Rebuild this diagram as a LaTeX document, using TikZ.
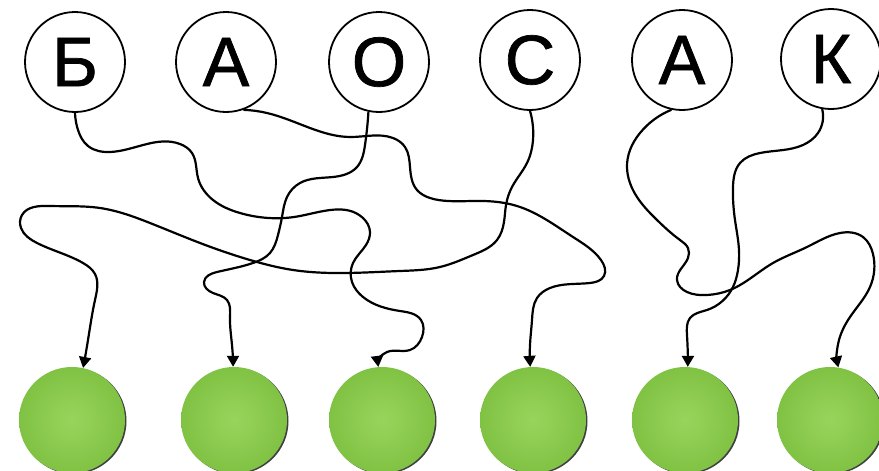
\documentclass[tikz,border=0pt]{standalone}
\usepackage{fontspec}
\setmainfont{Liberation Sans}
\newfontfamily\letterfont[FakeBold=1]{Liberation Sans}
\usetikzlibrary{arrows.meta}
\usetikzlibrary{hobby}

\definecolor{ballhi}{RGB}{152,212,92}
\definecolor{balllo}{RGB}{128,194,68}

\tikzset{
  letter/.style={circle, draw, line width=1.8pt, minimum size=100pt,
    inner sep=0pt, font=\letterfont\fontsize{70}{70}\selectfont},
  ball/.style={circle, minimum size=106pt, inner sep=0pt,
    inner color=ballhi, outer color=balllo},
  wire/.style={line width=2.2pt, -{Triangle[width=12pt,length=11pt]},
    use Hobby shortcut},
}

\begin{document}
\begin{tikzpicture}[x=1pt,y=-1pt]
  \useasboundingbox[fill=white] (0,0) rectangle (879,471);

  % letters
  \node[letter] (t1) at (75,62) {Б};
  \node[letter] (t2) at (226,62) {А};
  \node[letter] (t3) at (379,62) {О};
  \node[letter] (t4) at (530,60) {С};
  \node[letter] (t5) at (682,60) {А};
  \node[letter] (t6) at (831,59) {К};

  % balls
  \foreach \x in {72,234,382,533,685,830}
    \fill[black!75] (\x+1.5,421) circle (53pt);
  \node[ball] (b1) at (72,420) {};
  \node[ball] (b2) at (234,420) {};
  \node[ball] (b3) at (382,420) {};
  \node[ball] (b4) at (533,420) {};
  \node[ball] (b5) at (685,420) {};
  \node[ball] (b6) at (830,420) {};

  % tangled wires
  \draw[wire] (t1.south) .. (78,130) .. (88,146) .. (110,152) .. (180,144)
    .. (192,153) .. (198,178) .. (213,200) .. (240,213) .. (300,216)
    .. (363,218) .. (370,232) .. (366,245) .. (353,263) .. (352,282)
    .. (363,297) .. (400,311) .. (421,320) .. (422,337) .. (410,350)
    .. (387,352) .. (b3.94);
  \draw[wire] (t2.-70) .. (267,113) .. (310,128) .. (350,137) .. (393,138)
    .. (405,147) .. (410,167) .. (417,190) .. (430,198) .. (448,201)
    .. (483,201) .. (517,206) .. (573,237) .. (601,260) .. (604,276)
    .. (590,283) .. (550,288) .. (537,298) .. (532,320) .. (530,345)
    .. (b4.93);
  \draw[wire] (t3.-102) .. (365,145) .. (357,167) .. (333,177) .. (300,183)
    .. (287,197) .. (282,217) .. (278,235) .. (270,253) .. (253,263)
    .. (217,272) .. (204,282) .. (213,293) .. (227,300) .. (230,317)
    .. (232,345) .. (b2.91);
  \draw[wire] (t4.south) .. (533,140) .. (527,163) .. (512,187) .. (506,205)
    .. (504,222) .. (497,240) .. (473,255) .. (440,267) .. (400,271)
    .. (333,273) .. (293,270) .. (250,260) .. (200,243) .. (150,223)
    .. (100,208) .. (50,206) .. (22,215) .. (21,228) .. (37,243)
    .. (83,263) .. (95,274) .. (95,300) .. (88,340) .. (b1.78);
  \draw[wire] (t5.-102) .. (640,133) .. (630,150) .. (627,167) .. (637,197)
    .. (657,220) .. (680,240) .. (688,248) .. (688,258) .. (677,280)
    .. (687,292) .. (707,295) .. (730,290) .. (773,263) .. (807,247)
    .. (840,233) .. (863,237) .. (873,254) .. (870,287) .. (850,317)
    .. (839,340) .. (b6.81);
  \draw[wire] (t6.-100) .. (818,133) .. (803,145) .. (760,153) .. (740,163)
    .. (733,187) .. (735,220) .. (739,250) .. (738,270) .. (733,287)
    .. (707,310) .. (690,318) .. (687,335) .. (b5.87);
\end{tikzpicture}
\end{document}
